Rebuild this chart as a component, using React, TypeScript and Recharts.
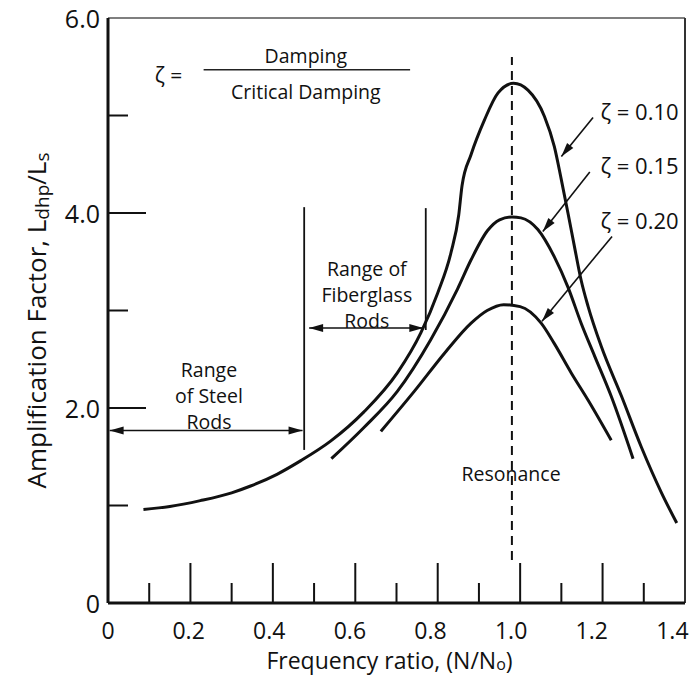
import React from 'react';
import { ComposedChart, Line, XAxis, YAxis, ReferenceLine, Scatter } from 'recharts';

const FONT = '"Open Sans", "Noto Sans", "DejaVu Sans", sans-serif';

// Amplification factor curves (x = frequency ratio N/No, y = amplification factor)
const zeta010 = [
  { x: 0.086, y: 0.96 }, { x: 0.15, y: 0.99 }, { x: 0.224, y: 1.05 }, { x: 0.3, y: 1.13 },
  { x: 0.346, y: 1.2 }, { x: 0.41, y: 1.32 }, { x: 0.468, y: 1.46 }, { x: 0.54, y: 1.66 },
  { x: 0.621, y: 1.96 }, { x: 0.702, y: 2.36 }, { x: 0.759, y: 2.77 }, { x: 0.8, y: 3.18 },
  { x: 0.832, y: 3.59 }, { x: 0.851, y: 3.98 }, { x: 0.859, y: 4.28 }, { x: 0.881, y: 4.6 },
  { x: 0.913, y: 4.95 }, { x: 0.946, y: 5.23 }, { x: 0.984, y: 5.33 }, { x: 1.019, y: 5.26 },
  { x: 1.059, y: 4.99 }, { x: 1.083, y: 4.68 }, { x: 1.1, y: 4.34 }, { x: 1.116, y: 4.0 },
  { x: 1.132, y: 3.65 }, { x: 1.148, y: 3.31 }, { x: 1.165, y: 3.04 }, { x: 1.197, y: 2.63 },
  { x: 1.246, y: 2.12 }, { x: 1.294, y: 1.6 }, { x: 1.343, y: 1.13 }, { x: 1.38, y: 0.82 },
];
const zeta015 = [
  { x: 0.542, y: 1.48 }, { x: 0.621, y: 1.8 }, { x: 0.702, y: 2.17 }, { x: 0.783, y: 2.7 },
  { x: 0.848, y: 3.22 }, { x: 0.881, y: 3.52 }, { x: 0.921, y: 3.82 }, { x: 0.95, y: 3.93 },
  { x: 0.98, y: 3.96 }, { x: 1.002, y: 3.95 }, { x: 1.043, y: 3.83 }, { x: 1.083, y: 3.55 },
  { x: 1.116, y: 3.24 }, { x: 1.148, y: 2.87 }, { x: 1.181, y: 2.53 }, { x: 1.221, y: 2.12 },
  { x: 1.274, y: 1.48 },
];
const zeta020 = [
  { x: 0.662, y: 1.76 }, { x: 0.743, y: 2.17 }, { x: 0.82, y: 2.58 }, { x: 0.881, y: 2.87 },
  { x: 0.92, y: 3.0 }, { x: 0.96, y: 3.06 }, { x: 1.0, y: 3.04 }, { x: 1.051, y: 2.87 },
  { x: 1.083, y: 2.66 }, { x: 1.124, y: 2.36 }, { x: 1.165, y: 2.08 }, { x: 1.221, y: 1.67 },
];

// Axis ticks
const xTicks = [0, 0.1, 0.2, 0.3, 0.4, 0.5, 0.6, 0.7, 0.8, 0.9, 1.0, 1.1, 1.2, 1.3, 1.4];
const xTickLabels = ['0', '0.2', '0.4', '0.6', '0.8', '1.0', '1.2', '1.4'];
const yTicks = [0, 1, 2, 3, 4, 5, 6];
const yTickLabels = ['0', '', '2.0', '', '4.0', '', '6.0'];

// Annotations (data coordinates)
const noteBlocks = [
  { x: 0.48, y: 5.62, lines: ['Damping'] },
  { x: 0.48, y: 5.25, lines: ['Critical Damping'] },
  { x: 0.245, y: 2.4, lines: ['Range', 'of Steel', 'Rods'] },
  { x: 0.628, y: 3.44, lines: ['Range of', 'Fiberglass', 'Rods'] },
  { x: 0.978, y: 1.33, lines: ['Resonance'] },
];
const zetaEq = [{ x: 0.147, y: 5.42, text: 'ζ =' }];
const zetaLabels = [
  { x: 1.195, y: 5.05, text: 'ζ = 0.10' },
  { x: 1.195, y: 4.49, text: 'ζ = 0.15' },
  { x: 1.195, y: 3.93, text: 'ζ = 0.20' },
];
const zetaArrows = [
  [{ x: 1.177, y: 4.98 }, { x: 1.1, y: 4.58 }],
  [{ x: 1.169, y: 4.42 }, { x: 1.055, y: 3.81 }],
  [{ x: 1.223, y: 3.76 }, { x: 1.053, y: 2.89 }],
];
const rangeArrows = [
  [{ x: 0.004, y: 1.77 }, { x: 0.472, y: 1.77 }],
  [{ x: 0.488, y: 2.82 }, { x: 0.765, y: 2.82 }],
];
const rangeLines = [
  [{ x: 0.476, y: 1.57 }, { x: 0.476, y: 4.06 }],
  [{ x: 0.771, y: 2.8 }, { x: 0.771, y: 4.05 }],
];
const fractionBar = [{ x: 0.232, y: 5.47 }, { x: 0.733, y: 5.47 }];
const resonanceLine = [{ x: 0.98, y: 0.44 }, { x: 0.98, y: 5.6 }];

const headPoints = (tx: number, ty: number, fx: number, fy: number, len: number, half: number) => {
  const dx = fx - tx;
  const dy = fy - ty;
  const d = Math.sqrt(dx * dx + dy * dy) || 1;
  const ux = dx / d;
  const uy = dy / d;
  const bx = tx + ux * len;
  const by = ty + uy * len;
  return `${tx},${ty} ${bx - uy * half},${by + ux * half} ${bx + uy * half},${by - ux * half}`;
};

const makeArrow = (both: boolean) => (props: any) => {
  const { x1, y1, x2, y2 } = props;
  return (
    <g>
      <line x1={x1} y1={y1} x2={x2} y2={y2} stroke="#111" strokeWidth={1.6} />
      {both && <polygon points={headPoints(x1, y1, x2, y2, 14, 4)} fill="#111" />}
      <polygon points={headPoints(x2, y2, x1, y1, 14, 4)} fill="#111" />
    </g>
  );
};
const doubleArrow = makeArrow(true);
const singleArrow = makeArrow(false);

const XTick = (props: any) => {
  const { x, y, index } = props;
  const major = index % 2 === 0;
  const isEdge = index === 0 || index === xTicks.length - 1;
  const shift = -9 * xTicks[index];
  return (
    <g>
      {!isEdge && (
        <line x1={x} y1={y} x2={x} y2={y - (major ? 40 : 20)} stroke="#111" strokeWidth={2} />
      )}
      {major && (
        <text x={x + shift} y={y + 27} textAnchor="middle" dominantBaseline="central" fontSize={23} fontFamily={FONT} fill="#111">
          {xTickLabels[index / 2]}
        </text>
      )}
    </g>
  );
};

const YTick = (props: any) => {
  const { x, y, index } = props;
  const label = yTickLabels[index];
  const isEdge = index === 0 || index === yTicks.length - 1;
  const len = label ? 38 : 20;
  return (
    <g>
      {!isEdge && <line x1={x} y1={y} x2={x + len} y2={y} stroke="#111" strokeWidth={2} />}
      {label && (
        <text x={x - 8} y={y} textAnchor="end" dominantBaseline="central" fontSize={25} fontFamily={FONT} fill="#111">
          {label}
        </text>
      )}
    </g>
  );
};

const NoteBlock = (props: any) => {
  const { cx, cy, payload } = props;
  const lines: string[] = payload.lines;
  return (
    <text x={cx} y={cy} textAnchor="middle" dominantBaseline="central" fontSize={19.5} fontFamily={FONT} fill="#111">
      {lines.map((t, i) => (
        <tspan key={i} x={cx} dy={i === 0 ? 0 : 26}>
          {t}
        </tspan>
      ))}
    </text>
  );
};

const ZetaText = (props: any) => {
  const { cx, cy, payload } = props;
  return (
    <text x={cx} y={cy} textAnchor="start" dominantBaseline="central" fontSize={22} fontFamily={FONT} fill="#111">
      {payload.text}
    </text>
  );
};

const EqText = (props: any) => {
  const { cx, cy, payload } = props;
  return (
    <text x={cx} y={cy} textAnchor="middle" dominantBaseline="central" fontSize={21} fontFamily={FONT} fill="#111">
      {payload.text}
    </text>
  );
};

const YTitle = (props: any) => {
  const vb = props.viewBox || { x: 0, y: 18, width: 108, height: 585 };
  const cx = vb.x + 36;
  const cy = vb.y + vb.height / 2 + 10;
  return (
    <text x={cx} y={cy} transform={`rotate(-90 ${cx} ${cy})`} textAnchor="middle" dominantBaseline="central" fontSize={26} fontFamily={FONT} fill="#111">
      Amplification Factor, L<tspan fontSize={19} dy={6}>dhp</tspan>
      <tspan dy={-6}>/L</tspan>
      <tspan fontSize={19} dy={6}>s</tspan>
    </text>
  );
};

const XTitle = (props: any) => {
  const vb = props.viewBox || { x: 108, y: 603, width: 577, height: 75 };
  const cx = vb.x + vb.width / 2 - 7;
  const cy = vb.y + 57;
  return (
    <text x={cx} y={cy} textAnchor="middle" dominantBaseline="central" fontSize={23} fontFamily={FONT} fill="#111">
      Frequency ratio, (N/N<tspan fontSize={16} dy={4}>o</tspan>
      <tspan dy={-4}>)</tspan>
    </text>
  );
};

export default function App() {
  return (
    <div style={{ position: 'absolute', left: 0, top: 0, width: 694, height: 678, background: '#fff' }}>
      <ComposedChart width={694} height={678} margin={{ top: 18, right: 9, left: 0, bottom: 0 }}>
        <XAxis
          dataKey="x"
          type="number"
          domain={[0, 1.4]}
          ticks={xTicks}
          interval={0}
          tickLine={false}
          tickSize={0}
          tickMargin={0}
          axisLine={{ stroke: '#111', strokeWidth: 3 }}
          tick={<XTick />}
          height={75}
          allowDataOverflow
          label={{ content: (p: any) => <XTitle {...p} /> }}
        />
        <YAxis
          type="number"
          domain={[0, 6]}
          ticks={yTicks}
          interval={0}
          tickLine={false}
          tickSize={0}
          tickMargin={0}
          axisLine={{ stroke: '#111', strokeWidth: 3 }}
          tick={<YTick />}
          width={108}
          allowDataOverflow
          label={{ content: (p: any) => <YTitle {...p} /> }}
        />
        <ReferenceLine y={6} stroke="#555" strokeWidth={1.5} />
        <ReferenceLine x={1.4} stroke="#333" strokeWidth={2} />
        <ReferenceLine segment={resonanceLine} stroke="#111" strokeWidth={2} strokeDasharray="9 6" />
        <ReferenceLine segment={fractionBar} stroke="#222" strokeWidth={1.5} />
        {rangeLines.map((s, i) => (
          <ReferenceLine key={`rl${i}`} segment={s} stroke="#111" strokeWidth={1.8} />
        ))}
        {rangeArrows.map((s, i) => (
          <ReferenceLine key={`ra${i}`} segment={s} shape={doubleArrow} />
        ))}
        {zetaArrows.map((s, i) => (
          <ReferenceLine key={`za${i}`} segment={s} shape={singleArrow} />
        ))}
        <Line data={zeta010} dataKey="y" type="monotone" stroke="#111" strokeWidth={3} dot={false} isAnimationActive={false} />
        <Line data={zeta015} dataKey="y" type="monotone" stroke="#111" strokeWidth={3} dot={false} isAnimationActive={false} />
        <Line data={zeta020} dataKey="y" type="monotone" stroke="#111" strokeWidth={3} dot={false} isAnimationActive={false} />
        <Scatter data={noteBlocks} dataKey="y" shape={(p: any) => <NoteBlock {...p} />} isAnimationActive={false} />
        <Scatter data={zetaEq} dataKey="y" shape={(p: any) => <EqText {...p} />} isAnimationActive={false} />
        <Scatter data={zetaLabels} dataKey="y" shape={(p: any) => <ZetaText {...p} />} isAnimationActive={false} />
      </ComposedChart>
    </div>
  );
}
